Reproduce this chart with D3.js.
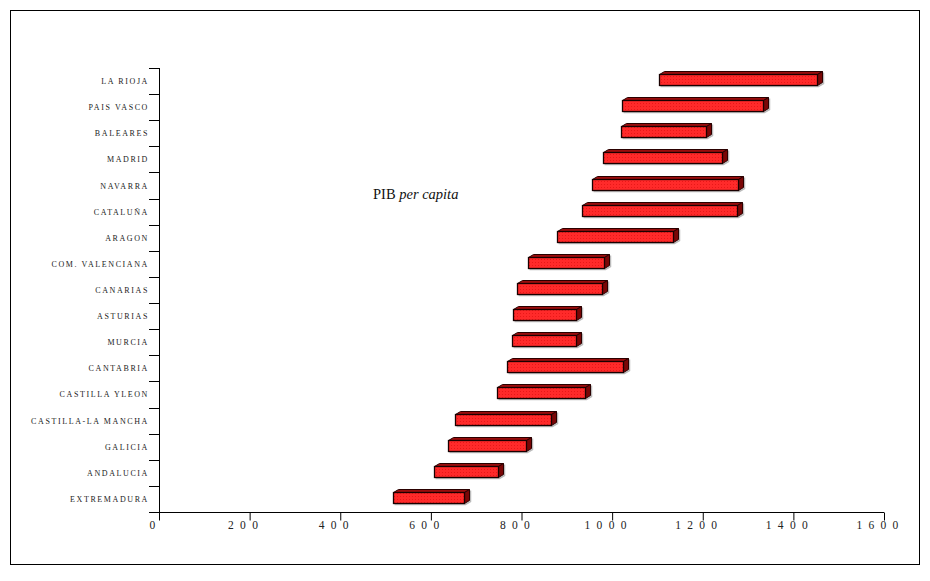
<!DOCTYPE html>
<html>
<head>
<meta charset="utf-8">
<script src="https://cdn.jsdelivr.net/npm/d3@7"></script>
<style>
  html, body { margin: 0; padding: 0; background: #fff; }
  svg { display: block; }
</style>
</head>
<body>
<svg id="chart" width="930" height="581"></svg>
<script>
const categories = ["LA RIOJA", "PAIS VASCO", "BALEARES", "MADRID", "NAVARRA", "CATALUÑA", "ARAGON",
  "COM. VALENCIANA", "CANARIAS", "ASTURIAS", "MURCIA", "CANTABRIA", "CASTILLA YLEON",
  "CASTILLA-LA MANCHA", "GALICIA", "ANDALUCIA", "EXTREMADURA"];
const minValues = [1103, 1022, 1020, 980, 956, 933, 879, 815, 790, 781, 779, 768, 746, 653, 638, 607, 516];
const maxValues = [1452, 1333, 1207, 1242, 1278, 1275, 1134, 982, 977, 920, 920, 1024, 940, 865, 810, 748, 673];
const xTicks = [0, 200, 400, 600, 800, 1000, 1200, 1400, 1600];
const titleMain = "PIB ";
const titleItalic = "per capita";

const svg = d3.select("#chart");

// outer frame
svg.append("rect").attr("x", 10.5).attr("y", 10.5).attr("width", 909).attr("height", 554)
  .attr("fill", "none").attr("stroke", "#000").attr("stroke-width", 1);

const x = d3.scaleLinear().domain([0, 1600]).range([159, 884]);
const y = d3.scaleBand().domain(categories).range([68, 512]).paddingInner(0).paddingOuter(0);

const data = categories.map((c, i) => ({ c, lo: minValues[i], hi: maxValues[i] }));

// pattern for front face
const defs = svg.append("defs");
const pat = defs.append("pattern").attr("id", "dots").attr("width", 3).attr("height", 3)
  .attr("patternUnits", "userSpaceOnUse");
pat.append("rect").attr("width", 3).attr("height", 3).attr("fill", "#ff2a2a");
pat.append("rect").attr("x", 1).attr("y", 1).attr("width", 1).attr("height", 1).attr("fill", "#e81818");

// bars (3D)
const dx = 5, dy = 3;
const bars = svg.append("g");
data.forEach(d => {
  const cy = y(d.c) + y.bandwidth() / 2;
  const x0 = Math.round(x(d.lo)) + 0.5, x1 = Math.round(x(d.hi)) + 0.5;
  const top = Math.round(cy - 7) + 0.5, bot = Math.round(cy + 4) + 0.5;
  const g = bars.append("g");
  // soft shadow
  g.append("path")
    .attr("d", `M${x0 + 1},${bot + 1} L${x1 + 1},${bot + 1} L${x1 + dx + 1},${bot - dy + 1} L${x1 + dx + 1},${top - dy + 1}`)
    .attr("fill", "none").attr("stroke", "#bbb").attr("stroke-width", 1.5);
  // top face
  g.append("path")
    .attr("d", `M${x0},${top} L${x0 + dx},${top - dy} L${x1 + dx},${top - dy} L${x1},${top} Z`)
    .attr("fill", "#9a0c0c").attr("stroke", "#2a0000").attr("stroke-width", 1).attr("stroke-linejoin", "round");
  // side face
  g.append("path")
    .attr("d", `M${x1},${top} L${x1 + dx},${top - dy} L${x1 + dx},${bot - dy} L${x1},${bot} Z`)
    .attr("fill", "#7a0606").attr("stroke", "#2a0000").attr("stroke-width", 1).attr("stroke-linejoin", "round");
  // front face
  g.append("rect").attr("x", x0).attr("y", top).attr("width", x1 - x0).attr("height", bot - top)
    .attr("fill", "url(#dots)").attr("stroke", "#1a0000").attr("stroke-width", 1.3);
});

// y axis
const yAxisG = svg.append("g");
yAxisG.append("line").attr("x1", 159.5).attr("x2", 159.5).attr("y1", 68).attr("y2", 512.5)
  .attr("stroke", "#000").attr("stroke-width", 1);
const boundaries = categories.map(c => y(c)).concat([y.range()[1]]);
yAxisG.selectAll("line.tk").data(boundaries).join("line").attr("class", "tk")
  .attr("x1", 149).attr("x2", 159.5)
  .attr("y1", d => Math.round(d) + 0.5).attr("y2", d => Math.round(d) + 0.5)
  .attr("stroke", "#000").attr("stroke-width", 1);
yAxisG.selectAll("text").data(categories).join("text")
  .attr("x", 149).attr("y", d => y(d) + y.bandwidth() / 2 + 3)
  .attr("text-anchor", "end")
  .attr("font-family", "'Liberation Serif', 'Times New Roman', serif")
  .attr("font-size", "8px").attr("letter-spacing", "1.6px").attr("fill", "#222")
  .text(d => d);

// x axis
const xAxis = d3.axisBottom(x).tickValues(xTicks).tickSize(8).tickPadding(4)
  .tickFormat(d => String(d));
const xg = svg.append("g").attr("transform", "translate(0,512.5)").call(xAxis);
xg.select(".domain").attr("stroke", "#000").attr("d", `M${x(0)},0H${x(1600)}`);
xg.selectAll(".tick line").attr("stroke", "#000");
xg.selectAll(".tick text")
  .attr("font-family", "'Liberation Serif', 'Times New Roman', serif")
  .attr("font-size", "11.5px").attr("letter-spacing", "6.3px").attr("fill", "#222")
  .attr("dx", "-4px").attr("y", 16).attr("dy", "0");

// title
const t = svg.append("text").attr("x", 373).attr("y", 199)
  .attr("font-family", "'Liberation Serif', 'Times New Roman', serif")
  .attr("font-size", "14.5px").attr("fill", "#111");
t.append("tspan").text(titleMain);
t.append("tspan").attr("font-style", "italic").text(titleItalic);
</script>
</body>
</html>
